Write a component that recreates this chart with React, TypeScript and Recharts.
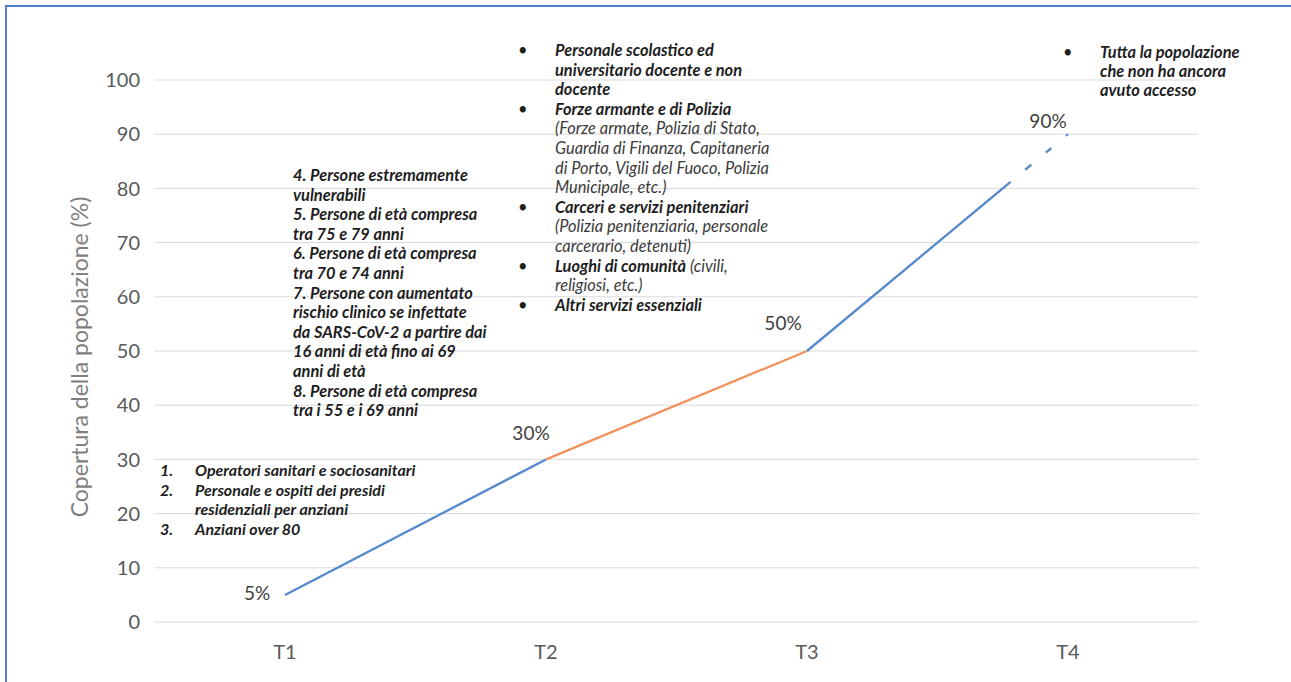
import React from 'react';
import { LineChart, Line, XAxis, YAxis, CartesianGrid, Label } from 'recharts';

// ---- data ----
const categories = ['T1', 'T2', 'T3', 'T4'];
const categoryPositions = [1, 2, 3, 4];
const coverage = [5, 30, 50, 90];
const coverageLabels = ['5%', '30%', '50%', '90%'];
const yTicks = [0, 10, 20, 30, 40, 50, 60, 70, 80, 90, 100];
// point where the solid T3→T4 line stops and the dashed part begins
const solidBreakX = 3.78;
const solidBreakY = 81.2;

// annotation texts
const phase1Items = [
  { num: '1.', lines: ['Operatori sanitari e sociosanitari'] },
  { num: '2.', lines: ['Personale e ospiti dei presidi', 'residenziali per anziani'] },
  { num: '3.', lines: ['Anziani over 80'] },
];
const phase2Lines = [
  '4. Persone estremamente',
  'vulnerabili',
  '5. Persone di età compresa',
  'tra 75 e 79 anni',
  '6. Persone di età compresa',
  'tra 70 e 74 anni',
  '7. Persone con aumentato',
  'rischio clinico se infettate',
  'da SARS-CoV-2 a partire dai',
  '16 anni di età fino ai 69',
  'anni di età',
  '8. Persone di età compresa',
  'tra i 55 e i 69 anni',
];
type Seg = { t: string; b: boolean };
const phase3Items: Seg[][][] = [
  [
    [{ t: 'Personale scolastico ed', b: true }],
    [{ t: 'universitario docente e non', b: true }],
    [{ t: 'docente', b: true }],
  ],
  [
    [{ t: 'Forze armante e di Polizia', b: true }],
    [{ t: '(Forze armate, Polizia di Stato,', b: false }],
    [{ t: 'Guardia di Finanza, Capitaneria', b: false }],
    [{ t: 'di Porto, Vigili del Fuoco, Polizia', b: false }],
    [{ t: 'Municipale, etc.)', b: false }],
  ],
  [
    [{ t: 'Carceri e servizi penitenziari', b: true }],
    [{ t: '(Polizia penitenziaria, personale', b: false }],
    [{ t: 'carcerario, detenuti)', b: false }],
  ],
  [
    [{ t: 'Luoghi di comunità', b: true }, { t: ' (civili,', b: false }],
    [{ t: 'religiosi, etc.)', b: false }],
  ],
  [[{ t: 'Altri servizi essenziali', b: true }]],
];
const phase4Lines = ['Tutta la popolazione', 'che non ha ancora', 'avuto accesso'];

// ---- derived series ----
const seg1 = [0, 1].map((i) => ({ x: categoryPositions[i], y: coverage[i] }));
const seg2 = [1, 2].map((i) => ({ x: categoryPositions[i], y: coverage[i] }));
const seg3 = [
  { x: categoryPositions[2], y: coverage[2] },
  { x: solidBreakX, y: solidBreakY },
];
const seg4 = [
  { x: solidBreakX, y: solidBreakY },
  { x: categoryPositions[3], y: coverage[3] },
];
const labelPoints = categoryPositions.map((x, i) => ({ x, y: coverage[i], label: coverageLabels[i] }));

// ---- styles ----
const BLUE = '#5588cc';
const ORANGE = '#f2925f';
const FONT = 'Lato, "Open Sans", sans-serif';
const labelOffsets = [
  { dx: -28, dy: -2 },
  { dx: -15, dy: -27 },
  { dx: -24, dy: -29 },
  { dx: -20, dy: -14 },
];

const renderPointLabel = (props: any) => {
  const { x, y, index } = props;
  const off = labelOffsets[index] || { dx: 0, dy: 0 };
  return (
    <text
      key={'lbl' + index}
      x={x + off.dx}
      y={y + off.dy}
      textAnchor="middle"
      dominantBaseline="central"
      fontFamily={FONT}
      fontSize={19}
      fill="#404040"
    >
      {coverageLabels[index]}
    </text>
  );
};

const textBase: React.CSSProperties = {
  position: 'absolute',
  fontFamily: FONT,
  fontStyle: 'italic',
  fontSize: 16.4,
  color: '#1e1e1e',
  whiteSpace: 'nowrap',
};

export default function App() {
  return (
    <div
      style={{
        position: 'fixed',
        left: 0,
        top: 0,
        width: 1291,
        height: 682,
        overflow: 'hidden',
        background: '#ffffff',
      }}
    >
      <div
        style={{
          position: 'absolute',
          left: 5,
          top: 5,
          width: 1320,
          height: 720,
          border: '2px solid #4d80d2',
          boxSizing: 'border-box',
        }}
      />
      <div style={{ position: 'absolute', left: 0, top: 0 }}>
        <LineChart width={1291} height={682} margin={{ top: 80, right: 92.5, bottom: 20, left: 0 }}>
          <CartesianGrid vertical={false} stroke="#d9d9d9" strokeWidth={1} />
          <XAxis
            type="number"
            dataKey="x"
            domain={[0.5, 4.5]}
            ticks={categoryPositions}
            tickFormatter={(v: number) => categories[categoryPositions.indexOf(v)] ?? ''}
            axisLine={false}
            tickLine={false}
            tickSize={0}
            tickMargin={23}
            height={40}
            tick={{ fontFamily: FONT, fontSize: 20, fill: '#595959' }}
            allowDataOverflow
          />
          <YAxis
            type="number"
            domain={[0, 100]}
            ticks={yTicks}
            axisLine={false}
            tickLine={false}
            tickSize={0}
            tickMargin={14.5}
            width={154.5}
            tick={{ fontFamily: FONT, fontSize: 20, fill: '#595959' }}
          >
            <Label
              value="Copertura della popolazione (%)"
              angle={-90}
              position="center"
              content={(p: any) => {
                const vb = p.viewBox || {};
                const cy = (vb.y ?? 80) + (vb.height ?? 542) / 2 + 6;
                return (
                  <text
                    x={79}
                    y={cy}
                    transform={`rotate(-90 79 ${cy})`}
                    textAnchor="middle"
                    dominantBaseline="central"
                    fontFamily={FONT}
                    fontSize={23}
                    fill="#7f7f7f"
                  >
                    Copertura della popolazione (%)
                  </text>
                );
              }}
            />
          </YAxis>
          <Line data={seg1} dataKey="y" stroke={BLUE} strokeWidth={2.3} dot={false} isAnimationActive={false} />
          <Line data={seg2} dataKey="y" stroke={ORANGE} strokeWidth={2.3} dot={false} isAnimationActive={false} />
          <Line data={seg3} dataKey="y" stroke={BLUE} strokeWidth={2.3} dot={false} isAnimationActive={false} />
          <Line
            data={seg4}
            dataKey="y"
            stroke={BLUE}
            strokeWidth={2.3}
            strokeDasharray="0 19 8 19 7 19 4"
            dot={false}
            isAnimationActive={false}
          />
          <Line
            data={labelPoints}
            dataKey="y"
            stroke="none"
            dot={false}
            activeDot={false}
            label={renderPointLabel}
            isAnimationActive={false}
          />
        </LineChart>
      </div>

      {/* Phase 1 annotation */}
      <div style={{ ...textBase, fontSize: 16, left: 160, top: 460, lineHeight: '19.6px', fontWeight: 700 }}>
        {phase1Items.map((it, i) => (
          <div key={i} style={{ display: 'flex' }}>
            <div style={{ width: 35 }}>{it.num}</div>
            <div>
              {it.lines.map((l, j) => (
                <div key={j}>{l}</div>
              ))}
            </div>
          </div>
        ))}
      </div>

      {/* Phase 2 annotation */}
      <div style={{ ...textBase, left: 293, top: 165, lineHeight: '19.6px', fontWeight: 700 }}>
        {phase2Lines.map((l, i) => (
          <div key={i}>{l}</div>
        ))}
      </div>

      {/* Phase 3 annotation */}
      <div style={{ ...textBase, left: 518, top: 40, lineHeight: '19.6px' }}>
        {phase3Items.map((item, i) => (
          <div key={i} style={{ display: 'flex' }}>
            <div style={{ width: 37, fontStyle: 'normal' }}>•</div>
            <div>
              {item.map((line, j) => (
                <div key={j}>
                  {line.map((s, k) => (
                    <span key={k} style={{ fontWeight: s.b ? 700 : 400, color: s.b ? '#1e1e1e' : '#3a3a3a' }}>
                      {s.t}
                    </span>
                  ))}
                </div>
              ))}
            </div>
          </div>
        ))}
      </div>

      {/* Phase 4 annotation */}
      <div style={{ ...textBase, left: 1063, top: 42, lineHeight: '19px', fontWeight: 700, display: 'flex' }}>
        <div style={{ width: 37, fontStyle: 'normal', fontWeight: 400 }}>•</div>
        <div>
          {phase4Lines.map((l, i) => (
            <div key={i}>{l}</div>
          ))}
        </div>
      </div>
    </div>
  );
}
